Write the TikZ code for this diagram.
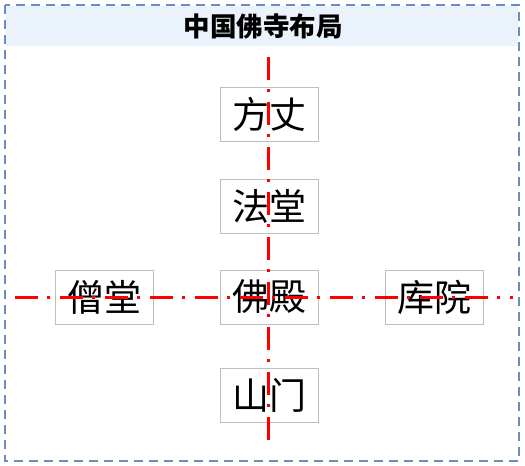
\documentclass[tikz,border=0pt]{standalone}
\usepackage{fontspec}
\newfontfamily\cjk{Noto Sans CJK SC}
\definecolor{frameblue}{RGB}{108,142,191}
\definecolor{headfill}{RGB}{234,242,252}
\definecolor{boxgray}{RGB}{190,190,190}
\begin{document}
\begin{tikzpicture}[x=1pt,y=-1pt,
  hall/.style={draw=boxgray,line width=1pt,fill=white,minimum width=98pt,minimum height=54pt,inner sep=0pt,font=\cjk\fontsize{37}{40}\selectfont},
  axis/.style={red,line width=3pt,dash pattern=on 23pt off 9pt on 3pt off 10pt}]
\useasboundingbox (0,0) rectangle (525,466);
\fill[headfill] (6,6) rectangle (518,46);
\draw[frameblue,line width=1.5pt,dash pattern=on 9pt off 6pt] (5,5) rectangle (519,461);
\node[font=\cjk\bfseries\fontsize{26.5}{30}\selectfont] (title) at (263,26) {中国佛寺布局};
\node[hall] (fangzhang) at (269,114) {方丈};
\node[hall] (fatang) at (269,206) {法堂};
\node[hall] (fodian) at (269,297) {佛殿};
\node[hall] (shanmen) at (269,395) {山门};
\node[hall] (sengtang) at (104.5,297) {僧堂};
\node[hall] (kuyuan) at (434.5,297) {库院};
\coordinate (vtop) at (268,57);
\coordinate (vbot) at (268,441);
\coordinate (hleft) at (15,297);
\coordinate (hright) at (513,297);
\draw[axis] (vtop) -- (vbot);
\draw[axis] (hleft) -- (hright);
\end{tikzpicture}
\end{document}
